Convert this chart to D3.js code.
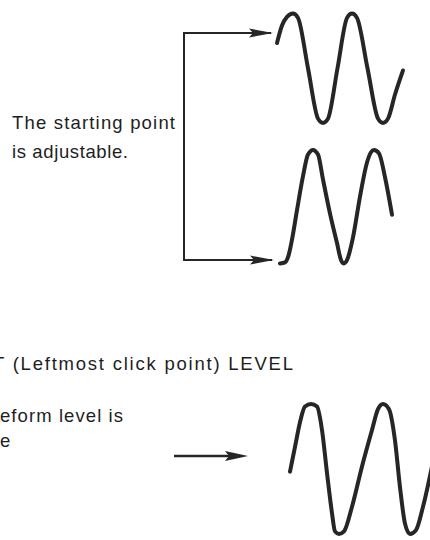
<!DOCTYPE html>
<html><head><meta charset="utf-8">
<script src="https://cdn.jsdelivr.net/npm/d3@7"></script>
<style>html,body{margin:0;padding:0;background:#fff;} svg{display:block;}</style>
</head><body>
<script>
// ---------- data ----------
const noteLines = ["The starting point", "is adjustable."];
const levelLine = "T (Leftmost click point) LEVEL";
const levelNoteLines = ["eform level is", "e"];

// waveform samples: [time (µs), level (% of swing)]
const waveStartA = [
  [0,73],[5,89],[10,97],[16,100],[21,96],[31,50],[41,4],[46,0],
  [51,4],[60.5,50],[70,96],[75,100],[80,96],[90.5,50],[101,4],[106,0],
  [111,4],[118,26],[126,48]
];
const waveStartB = [
  [3,0],[8,1],[11.5,7],[15,21],[20,47],[26,77],[31,96],[36,100],
  [41,96],[46,74],[53,44],[60,18],[64,3],[66.5,0],[70,3],[76,23],
  [83,59],[90,89],[94,98],[97,100],[102,97],[108,76],[115,43]
];
const waveLevel = [
  [0,48],[5,67],[10,86],[15,98],[21,100],[27,98],[32,80],[37,47],
  [42,16],[45,2],[49,0],[54,2],[62,21],[72,52],[82,80],[88,96],
  [93,100],[99,96],[105,72],[110,36],[115,8],[120,0],[126,3],
  [133,21],[142,52]
];

// ---------- layout ----------
const W = 430, H = 540;
const ink = "#262626";
const svg = d3.select("body").append("svg").attr("width", W).attr("height", H);

const xTop = d3.scaleLinear().domain([0, 126]).range([277, 403]);
const yTopA = d3.scaleLinear().domain([0, 100]).range([123, 13.5]);
const yTopB = d3.scaleLinear().domain([0, 100]).range([263.5, 150]);
const xBot = d3.scaleLinear().domain([0, 142]).range([290, 432]);
const yBot = d3.scaleLinear().domain([0, 100]).range([534, 404]);

function drawWave(data, xs, ys) {
  const line = d3.line().x(d => xs(d[0])).y(d => ys(d[1])).curve(d3.curveMonotoneX);
  svg.append("path").attr("d", line(data))
    .attr("fill", "none").attr("stroke", ink).attr("stroke-width", 4)
    .attr("stroke-linecap", "round").attr("stroke-linejoin", "round");
}
drawWave(waveStartA, xTop, yTopA);
drawWave(waveStartB, xTop, yTopB);
drawWave(waveLevel, xBot, yBot);

function arrowHead(tipX, y, len, half) {
  svg.append("path")
    .attr("d", `M${tipX},${y} L${tipX - len},${y - half} L${tipX - len + 4},${y} L${tipX - len},${y + half} Z`)
    .attr("fill", ink);
}

// bracket with two arrows
const bracketX = 184, topY = 33, botY = 260;
svg.append("path")
  .attr("d", `M${xTop(-6)},${topY} H${bracketX} V${botY} H${xTop(-5)}`)
  .attr("fill", "none").attr("stroke", ink).attr("stroke-width", 2);
arrowHead(xTop(-4), topY, 24, 4.5);
arrowHead(xTop(-3), botY, 24, 4.5);

// lower arrow
svg.append("line").attr("x1", 174).attr("x2", 240).attr("y1", 456).attr("y2", 456)
  .attr("stroke", ink).attr("stroke-width", 2.6);
arrowHead(248, 456, 23, 5);

// ---------- text ----------
const font = "'Liberation Sans', Arial, sans-serif";
function label(str, x, y, len) {
  const t = svg.append("text").attr("x", x).attr("y", y).text(str)
    .attr("font-family", font).attr("font-size", 18.5).attr("fill", "#1e1e1e");
  if (len) t.attr("textLength", len).attr("lengthAdjust", "spacing");
  return t;
}
label(noteLines[0], 12, 129, 163);
label(noteLines[1], 12, 158, 116);
label(levelLine, -7, 370, 300);
label(levelNoteLines[0], 0, 422, 123);
label(levelNoteLines[1], 0, 447);
</script>
</body></html>
